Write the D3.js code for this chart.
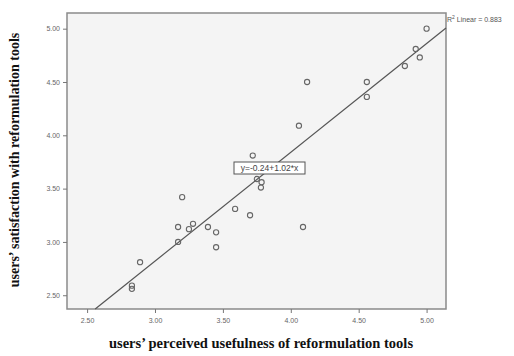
<!DOCTYPE html>
<html><head><meta charset="utf-8">
<script src="https://cdn.jsdelivr.net/npm/d3@7"></script>
<style>body{margin:0;background:#fff}svg{display:block}</style>
</head><body>
<svg id="c" width="514" height="356"></svg>
<script>
const usefulness = [3.75,3.785,3.78,3.20,3.59,3.70,3.28,3.17,3.25,3.39,3.45,3.17,3.45,2.89,2.83,2.83,3.72,5.00,4.92,4.95,4.84,4.12,4.56,4.56,4.06,4.09];
const satisfaction = [3.59,3.56,3.51,3.42,3.31,3.25,3.17,3.14,3.12,3.14,3.09,3.00,2.95,2.81,2.59,2.56,3.81,5.00,4.81,4.73,4.65,4.50,4.50,4.36,4.09,3.14];
const xTicks = [2.5,3.0,3.5,4.0,4.5,5.0];
const yTicks = [2.5,3.0,3.5,4.0,4.5,5.0];
const intercept = -0.24, slope = 1.02;
const eqLabel = "y=-0.24+1.02*x";
const r2Label = "Linear = 0.883";
const xTitle = "users\u2019 perceived usefulness of reformulation tools";
const yTitle = "users\u2019 satisfaction with reformulation tools";

const svg = d3.select("#c");
const L=67,R=446,T=13,B=309;
const x = d3.scaleLinear().domain([2.352,5.143]).range([L,R]);
const y = d3.scaleLinear().domain([2.371,5.147]).range([B,T]);

svg.append("rect").attr("x",L).attr("y",T).attr("width",R-L).attr("height",B-T)
  .attr("fill","#f4f4f4").attr("stroke","#8a8a8a").attr("stroke-width",1.5);

const fmt = d3.format(".2f");
svg.append("g").attr("transform",`translate(0,${B})`)
  .call(d3.axisBottom(x).tickValues(xTicks).tickFormat(fmt).tickSize(4).tickPadding(5))
  .call(g=>{g.select(".domain").remove();g.selectAll("line").attr("stroke","#777");
    g.selectAll("text").attr("fill","#666").style("font","7px Arial, 'Liberation Sans', sans-serif");});
svg.append("g").attr("transform",`translate(${L},0)`)
  .call(d3.axisLeft(y).tickValues(yTicks).tickFormat(fmt).tickSize(4).tickPadding(3))
  .call(g=>{g.select(".domain").remove();g.selectAll("line").attr("stroke","#777");
    g.selectAll("text").attr("fill","#666").style("font","7px Arial, 'Liberation Sans', sans-serif");});

// regression line clipped to frame
const yb = y.domain()[0];
const x0 = (yb - intercept)/slope;
const x1 = x.domain()[1];
svg.append("line").attr("x1",x(x0)).attr("y1",y(intercept+slope*x0))
  .attr("x2",x(x1)).attr("y2",y(intercept+slope*x1))
  .attr("stroke","#555").attr("stroke-width",1.2);

svg.append("g").selectAll("circle").data(usefulness).join("circle")
  .attr("cx",d=>x(d)).attr("cy",(d,i)=>y(satisfaction[i])).attr("r",2.6)
  .attr("fill","none").attr("stroke","#666").attr("stroke-width",1.1);

// equation label box
svg.append("rect").attr("x",234).attr("y",162).attr("width",71).attr("height",12)
  .attr("fill","#fff").attr("stroke","#555").attr("stroke-width",1);
svg.append("text").attr("x",269.5).attr("y",171.3).attr("text-anchor","middle")
  .attr("fill","#444").style("font","8.5px Arial, 'Liberation Sans', sans-serif").text(eqLabel);

const r2 = svg.append("text").attr("x",447).attr("y",22).attr("fill","#555")
  .style("font","7px Arial, 'Liberation Sans', sans-serif");
r2.append("tspan").text("R");
r2.append("tspan").attr("dy",-3).style("font-size","5px").text("2");
r2.append("tspan").attr("dy",3).text(" " + r2Label);

svg.append("text").attr("x",261).attr("y",348).attr("text-anchor","middle")
  .attr("fill","#111").style("font","bold 14.5px 'Liberation Serif', 'Times New Roman', serif")
  .text(xTitle);
svg.append("text").attr("transform","translate(19,160) rotate(-90)").attr("text-anchor","middle")
  .attr("fill","#111").style("font","bold 14px 'Liberation Serif', 'Times New Roman', serif")
  .text(yTitle);
</script>
</body></html>
